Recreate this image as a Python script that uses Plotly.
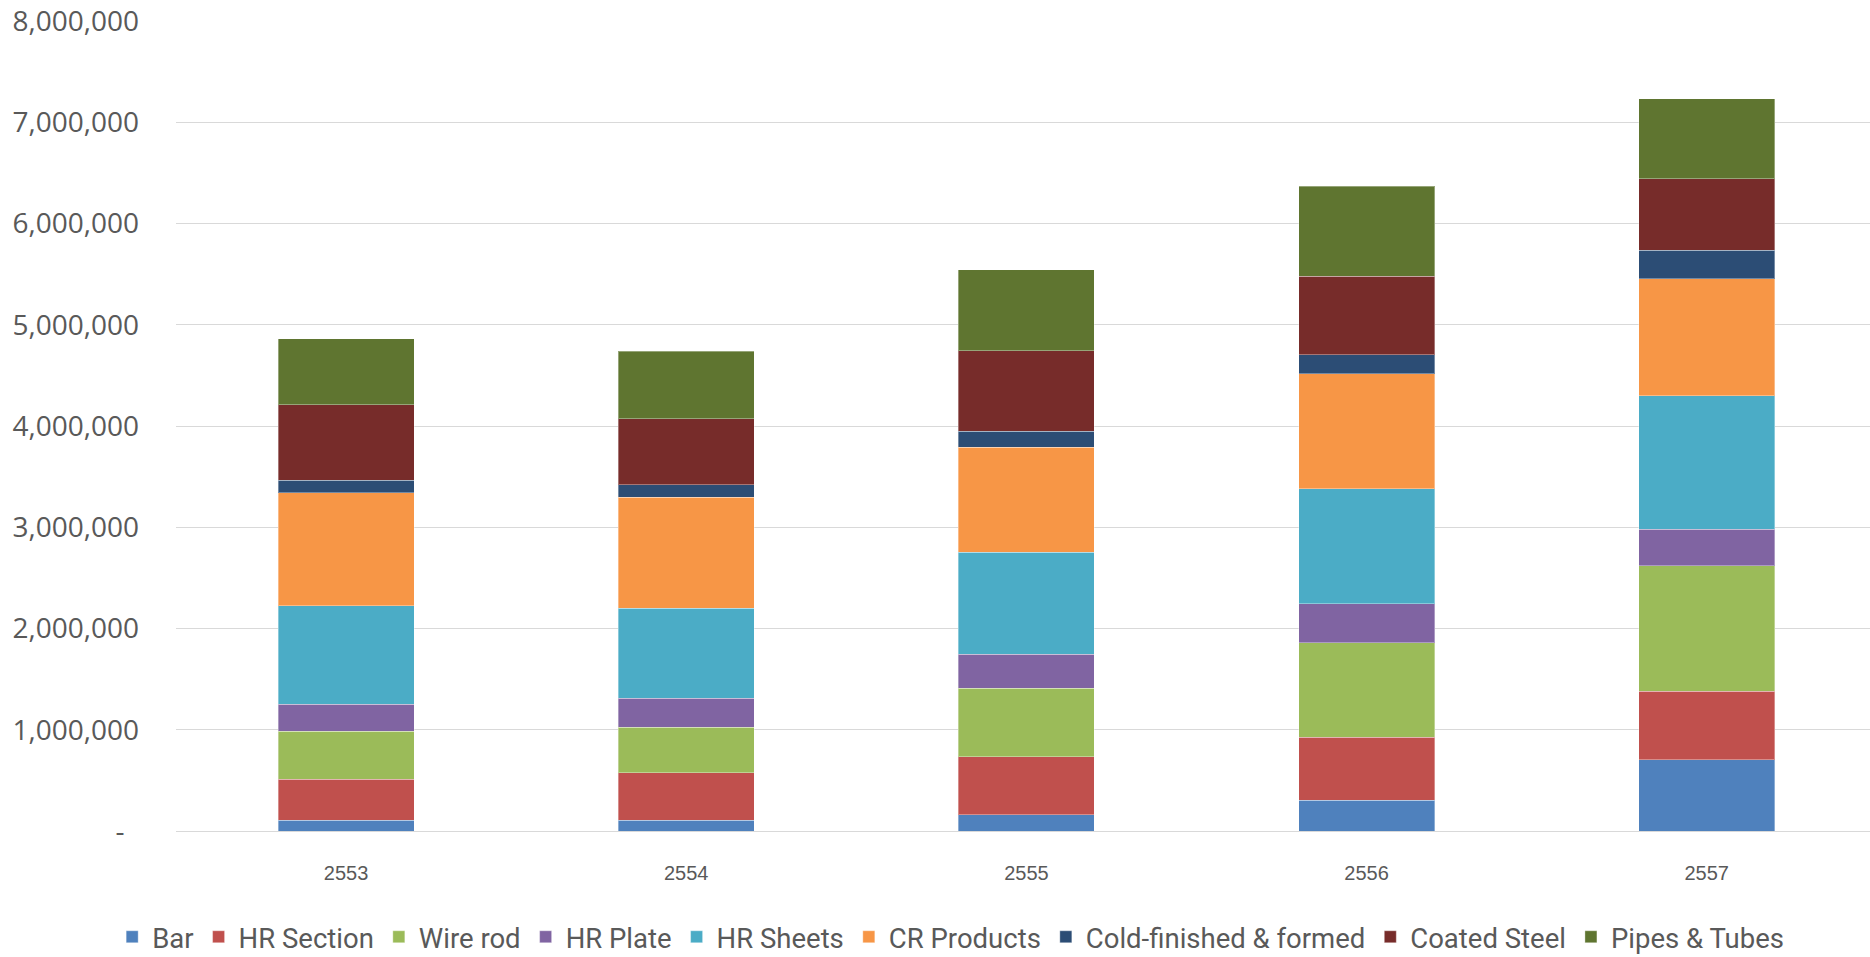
import plotly.graph_objects as go

# Fiscal years (Thai Buddhist calendar)
years = ["2553", "2554", "2555", "2556", "2557"]

# Tonnes per product group, one list per series
bar = [105000, 105000, 163000, 304000, 703000]
hr_section = [405000, 468000, 572000, 624000, 675000]
wire_rod = [474000, 454000, 676000, 933000, 1244000]
hr_plate = [270000, 283000, 334000, 384000, 359000]
hr_sheets = [970000, 891000, 1007000, 1135000, 1316000]
cr_products = [1119000, 1093000, 1036000, 1135000, 1158000]
cold_finished = [119000, 128000, 159000, 190000, 282000]
coated_steel = [750000, 652000, 795000, 776000, 703000]
pipes_tubes = [651000, 664000, 802000, 886000, 794000]

series_names = ["Bar", "HR Section", "Wire rod", "HR Plate", "HR Sheets",
                "CR Products", "Cold-finished & formed", "Coated Steel", "Pipes & Tubes"]
series_values = [bar, hr_section, wire_rod, hr_plate, hr_sheets,
                 cr_products, cold_finished, coated_steel, pipes_tubes]
series_colors = ["#4F81BD", "#C0504D", "#9BBB59", "#8064A2", "#4BACC6",
                 "#F79646", "#2C4D75", "#772C2A", "#5F7530"]

y_ticks = [0, 1000000, 2000000, 3000000, 4000000, 5000000, 6000000, 7000000, 8000000]
y_ticktext = ["-\u00a0\u00a0"] + [f"{v:,}" for v in y_ticks[1:]]

fig = go.Figure()
for name, vals, color in zip(series_names, series_values, series_colors):
    fig.add_trace(go.Bar(
        name=name, x=years, y=vals, width=0.4,
        marker=dict(color=color, line=dict(color="rgba(255,255,255,0.35)", width=1)),
    ))

fig.update_layout(
    barmode="stack",
    width=1870, height=957,
    margin=dict(l=176, r=0, t=21, b=126, autoexpand=False),
    paper_bgcolor="white", plot_bgcolor="white",
    showlegend=True,
    legend=dict(
        orientation="h",
        x=0.4573, xanchor="center",
        yref="container", y=0.021, yanchor="middle",
        font=dict(family="Roboto, sans-serif", size=27.5, color="#595959"),
        traceorder="normal", itemclick=False, itemdoubleclick=False,
    ),
    xaxis=dict(
        type="category", range=[-0.5, 4.48],
        showgrid=False, showline=False, zeroline=False,
        tickfont=dict(family="Liberation Sans, Arial, sans-serif", size=20, color="#595959"),
        ticklabelstandoff=28,
    ),
    yaxis=dict(
        range=[0, 8000000], tickvals=y_ticks, ticktext=y_ticktext,
        showgrid=True, gridcolor="#D9D9D9", gridwidth=1.3,
        zeroline=True, zerolinecolor="#D9D9D9", zerolinewidth=1.3,
        showline=False,
        tickfont=dict(family="Open Sans, sans-serif", size=28, color="#595959"),
        ticklabelstandoff=36,
    ),
)

fig.write_html("out.html")
